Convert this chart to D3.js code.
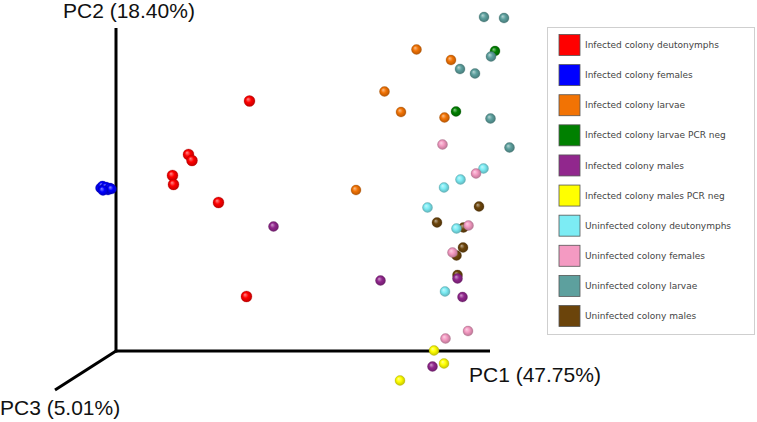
<!DOCTYPE html>
<html><head><meta charset="utf-8">
<script src="https://cdn.jsdelivr.net/npm/d3@7"></script>
<style>html,body{margin:0;padding:0;background:#fff;}svg{display:block;}</style>
</head><body>
<svg id="c" width="757" height="422"></svg>
<script>
// ---- data (projected PC1 / PC2 scores) ----
const groups = ["Infected colony deutonymphs","Infected colony females","Infected colony larvae","Infected colony larvae PCR neg","Infected colony males","Infected colony males PCR neg","Uninfected colony deutonymphs","Uninfected colony females","Uninfected colony larvae","Uninfected colony males"];
const groupColors = ["#ff0000","#0000ff","#f27304","#008000","#91278d","#ffff00","#7cecf4","#f49ac2","#5da09e","#6b440b"];
const axisLabels = ["PC1 (47.75%)","PC2 (18.40%)","PC3 (5.01%)"];

const deutonymphsInf = [[-0.033,0.300],[-0.155,0.193],[-0.148,0.181],[-0.187,0.151],[-0.185,0.133],[-0.095,0.097],[-0.039,-0.091]];
const femalesInf = [[-0.331,0.126],[-0.327,0.130],[-0.324,0.124],[-0.320,0.128],[-0.316,0.122],[-0.312,0.126],[-0.309,0.124],[-0.326,0.121]];
const larvaeInf = [[0.301,0.403],[0.370,0.382],[0.237,0.319],[0.270,0.278],[0.357,0.267],[0.180,0.122]];
const larvaePcrNeg = [[0.458,0.400],[0.380,0.279]];
const malesInf = [[0.015,0.049],[0.229,-0.059],[0.383,-0.055],[0.393,-0.092],[0.333,-0.231]];
const malesPcrNeg = [[0.336,-0.199],[0.356,-0.225],[0.268,-0.259]];
const deutonymphsUninf = [[0.435,0.165],[0.389,0.143],[0.356,0.127],[0.323,0.087],[0.381,0.045],[0.358,-0.081]];
const femalesUninf = [[0.353,0.213],[0.420,0.155],[0.405,0.051],[0.373,-0.003],[0.404,-0.160],[0.359,-0.175]];
const larvaeUninf = [[0.436,0.468],[0.476,0.466],[0.450,0.389],[0.388,0.364],[0.418,0.355],[0.449,0.265],[0.487,0.207]];
const malesUninf = [[0.426,0.089],[0.342,0.057],[0.395,0.047],[0.394,0.007],[0.381,-0.009],[0.383,-0.048]];

const seriesByGroup = [deutonymphsInf,femalesInf,larvaeInf,larvaePcrNeg,malesInf,malesPcrNeg,deutonymphsUninf,femalesUninf,larvaeUninf,malesUninf];
// drawing order (back to front)
const drawOrder = [3,8,9,2,0,1,4,5,6,7];

// ---- scales ----
const x = d3.scaleLinear().domain([-0.3,0.448]).range([116,490]);
const y = d3.scaleLinear().domain([-0.2,0.446]).range([351,28]);
const zDir = d3.scaleLinear().domain([0,1]).range([0,1]); // PC3 oblique axis
const pc3Offset = [-61,39];

const svg = d3.select("#c");
const defs = svg.append("defs");
groupColors.forEach((c,i)=>{
  const g = defs.append("radialGradient").attr("id","sph"+i)
    .attr("cx","50%").attr("cy","50%").attr("r","55%").attr("fx","35%").attr("fy","32%");
  const base = d3.rgb(c);
  g.append("stop").attr("offset","0%").attr("stop-color",d3.interpolateRgb(c,"#fff")(0.55));
  g.append("stop").attr("offset","45%").attr("stop-color",c);
  g.append("stop").attr("offset","100%").attr("stop-color",base.darker(0.9));
});

// ---- axes ----
const ox = x(-0.3), oy = y(-0.2);
const axG = svg.append("g").attr("stroke","#000").attr("stroke-width",3).attr("stroke-linecap","butt");
axG.append("line").attr("x1",ox).attr("y1",oy).attr("x2",x.range()[1]).attr("y2",oy);
axG.append("line").attr("x1",ox).attr("y1",oy+1.5).attr("x2",ox).attr("y2",y.range()[1]);
axG.append("line").attr("x1",ox).attr("y1",oy).attr("x2",ox+pc3Offset[0]*zDir(1)).attr("y2",oy+pc3Offset[1]*zDir(1));

const lab = svg.append("g").attr("font-family","Liberation Sans, Arial, sans-serif").attr("font-size",21).attr("fill","#111");
lab.append("text").attr("x",469).attr("y",382).text(axisLabels[0]);
lab.append("text").attr("x",63).attr("y",18).text(axisLabels[1]);
lab.append("text").attr("x",0).attr("y",415).text(axisLabels[2]);

// ---- points ----
const ptG = svg.append("g");
drawOrder.forEach(gi=>{
  ptG.selectAll(null).data(seriesByGroup[gi]).join("circle")
    .attr("cx",d=>x(d[0])).attr("cy",d=>y(d[1])).attr("r",gi===0?5.5:5)
    .attr("fill","url(#sph"+gi+")")
    .attr("stroke",d3.rgb(groupColors[gi]).darker(1.2)).attr("stroke-opacity",0.35).attr("stroke-width",0.8);
});

// ---- legend ----
const lg = svg.append("g");
lg.append("rect").attr("x",547.5).attr("y",27.5).attr("width",207).attr("height",307)
  .attr("fill","#fff").attr("stroke","#cfcfcf").attr("stroke-width",1);
const rowY = d3.scaleLinear().domain([0,9]).range([45,316]);
const rows = lg.selectAll("g.row").data(groups).join("g").attr("class","row")
  .attr("transform",(d,i)=>`translate(0,${rowY(i)})`);
rows.append("rect").attr("x",559).attr("y",-10.5).attr("width",21).attr("height",21)
  .attr("fill",(d,i)=>groupColors[i]).attr("stroke","#555").attr("stroke-width",0.8);
rows.append("text").attr("x",585).attr("y",0).attr("dy","0.35em")
  .attr("font-family","DejaVu Sans, sans-serif").attr("font-size",9).attr("fill","#444")
  .text(d=>d);
</script>
</body></html>
